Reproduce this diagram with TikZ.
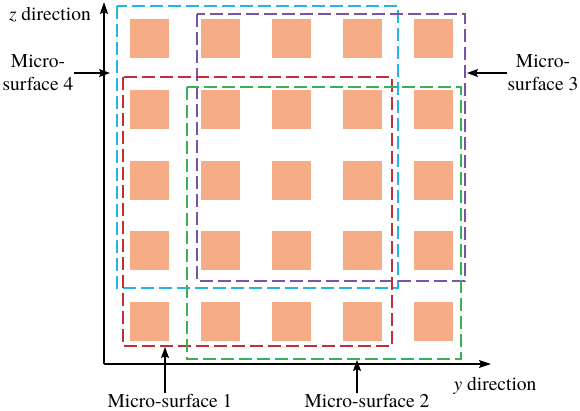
\documentclass[tikz,border=0pt]{standalone}
\usepackage{fontspec}
\setmainfont{TeX Gyre Termes}
\usetikzlibrary{positioning,arrows.meta}
\definecolor{patchorange}{RGB}{246,172,134}
\definecolor{msred}{RGB}{196,44,56}
\definecolor{msgreen}{RGB}{56,178,82}
\definecolor{mspurple}{RGB}{122,84,164}
\definecolor{mscyan}{RGB}{36,180,232}
\begin{document}
\begin{tikzpicture}[x=1bp,y=-1bp]
\tikzset{
    patch/.style={rectangle, fill=patchorange, minimum size=39bp, inner sep=0pt},
    surf/.style={dash pattern=on 13bp off 5bp, line width=1.3bp},
    axis/.style={-{Stealth[length=12bp, width=8bp, inset=2bp]}, line width=1.3bp},
    arrow/.style={-{Stealth[length=11bp, width=8bp, inset=2bp]}, line width=1.3bp},
    lbl/.style={font=\fontsize{19.5bp}{23bp}\selectfont, align=center, inner sep=0pt}
}
\useasboundingbox (0,0) rectangle (580,410);
% square patches
\foreach \i in {0,...,4}
  \foreach \j in {0,...,4}
    \node[patch] (p\i\j) at ({149.5+71*\i},{38.5+70.75*\j}) {};
% micro-surfaces
\draw[surf, draw=mscyan] (117,6) rectangle (398,288);
\draw[surf, draw=mspurple] (197,14) rectangle (465,281);
\draw[surf, draw=msred] (123,77) rectangle (392,346);
\draw[surf, draw=msgreen] (187,87) rectangle (461,359);
% axes
\coordinate (o) at (104,364);
\coordinate (zend) at (104,2);
\coordinate (yend) at (491,364);
\draw[axis] (o) -- (zend);
\draw[axis] (o) -- (yend);
\node[lbl, anchor=east] (zdir) at (91,15) {\textit{z} direction};
\node[lbl] (ydir) at (495,386) {\textit{y} direction};
% labels
\node[lbl] (ms4) at (38,73) {Micro-\\surface 4};
\node[lbl] (ms3) at (543,73) {Micro-\\surface 3};
\node[lbl, anchor=base] (ms1) at (170,407) {Micro-surface 1};
\node[lbl, anchor=base] (ms2) at (367,407) {Micro-surface 2};
\coordinate (tip4) at (110,73);
\coordinate (tip3) at (467,73);
\coordinate (tip1) at (165,347);
\coordinate (tip2) at (357,360);
\draw[arrow] (ms4.east) -- (tip4);
\draw[arrow] (ms3.west) -- (tip3);
\draw[arrow] (tip1 |- ms1.north) -- (tip1);
\draw[arrow] (tip2 |- ms2.north) -- (tip2);
\end{tikzpicture}
\end{document}
